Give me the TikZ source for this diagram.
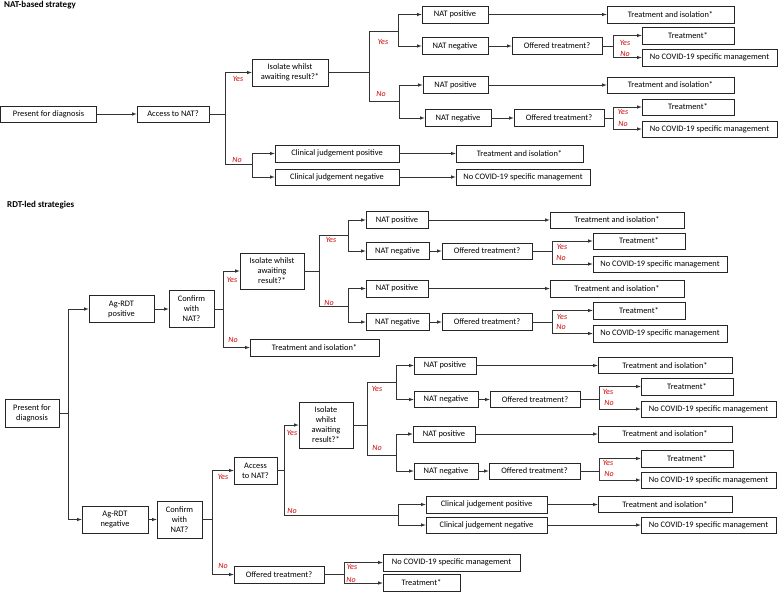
\documentclass[tikz,border=0pt]{standalone}
\usepackage{fontspec}
\setmainfont{Carlito}
\usetikzlibrary{shapes,arrows}
\definecolor{decred}{RGB}{204,0,0}
\newcommand{\decbox}[6]{%
  \node[box, minimum width=#4pt, minimum height=#5pt] (#1) at (#2,#3) {#6};}
\newcommand{\yeslbl}[3]{\node[lbl] (#1) at (#2,#3) {Yes};}
\newcommand{\nolbl}[3]{\node[lbl] (#1) at (#2,#3) {No};}
\tikzset{
  box/.style  = {draw=black!85, fill=white, line width=0.6pt, inner sep=1pt,
                 align=center, font=\fontsize{8.4}{10}\selectfont},
  lbl/.style  = {text=decred, inner sep=0pt, font=\fontsize{8}{9}\selectfont\itshape},
  hd/.style   = {anchor=west, inner sep=0pt, font=\fontsize{9}{10}\selectfont\bfseries},
  edge/.style = {draw=black!80, line width=0.6pt, -latex},
  link/.style = {draw=black!80, line width=0.6pt}
}

\begin{document}
\begin{tikzpicture}[x=1pt, y=-1pt]
  \useasboundingbox (0,0) rectangle (778,592);

  % NAT-based strategy
  \node[hd] (hd1) at (4,5) {NAT-based strategy};
  \decbox{pfd1}{48.5}{114}{96}{16}{Present for diagnosis}
  \decbox{acc1}{173}{114}{72}{16}{Access to NAT?}
  \decbox{iso1}{290}{72.5}{76}{27}{Isolate whilst\\awaiting result?*}
  \decbox{cjp1}{337}{153.5}{124}{17}{Clinical judgement positive}
  \decbox{cjn1}{337}{177}{124}{16}{Clinical judgement negative}
  \decbox{ti1c}{519.5}{153.5}{127}{17}{Treatment and isolation*}
  \decbox{nc1c}{523}{177}{134}{16}{No COVID-19 specific management}
  \decbox{natp1a}{455}{14.5}{66}{17}{NAT positive}
  \decbox{natn1a}{455}{46}{66}{17}{NAT negative}
  \decbox{off1a}{557}{46}{90}{17}{Offered treatment?}
  \decbox{ti1a}{670.5}{14.5}{127}{17}{Treatment and isolation*}
  \decbox{tr1a}{688}{35.5}{92}{17}{Treatment*}
  \decbox{nc1a}{709.5}{57.5}{135}{17}{No COVID-19 specific management}
  \decbox{natp1b}{455.5}{85}{65}{17}{NAT positive}
  \decbox{natn1b}{458}{118}{66}{17}{NAT negative}
  \decbox{off1b}{559}{118}{90}{17}{Offered treatment?}
  \decbox{ti1b}{670.5}{85}{127}{16}{Treatment and isolation*}
  \decbox{tr1b}{688}{107}{92}{16}{Treatment*}
  \decbox{nc1b}{709.5}{129}{135}{16}{No COVID-19 specific management}

  \coordinate (j1) at (225,114);
  \coordinate (j1n) at (252,164);
  \coordinate (j2) at (369,72.5);
  \coordinate (j2a) at (398,31);
  \coordinate (j2b) at (399,101);
  \coordinate (j3a) at (613,46);
  \coordinate (j3b) at (613,118);

  \draw[edge] (pfd1) -- (acc1);
  \draw[link] (acc1) -- (j1) |- (j1n);
  \draw[edge] (j1) |- (iso1);
  \draw[edge] (j1n) |- (cjp1);
  \draw[edge] (j1n) |- (cjn1);
  \draw[edge] (cjp1) -- (ti1c);
  \draw[edge] (cjn1) -- (nc1c);
  \draw[link] (iso1) -- (j2) |- (j2a);
  \draw[link] (j2) |- (j2b);
  \draw[edge] (j2a) |- (natp1a);
  \draw[edge] (j2a) |- (natn1a);
  \draw[edge] (j2b) |- (natp1b);
  \draw[edge] (j2b) |- (natn1b);
  \draw[edge] (natp1a) -- (ti1a);
  \draw[edge] (natn1a) -- (off1a);
  \draw[edge] (natp1b) -- (ti1b);
  \draw[edge] (natn1b) -- (off1b);
  \draw[link] (off1a) -- (j3a);
  \draw[edge] (j3a) |- (tr1a);
  \draw[edge] (j3a) |- (nc1a);
  \draw[link] (off1b) -- (j3b);
  \draw[edge] (j3b) |- (tr1b);
  \draw[edge] (j3b) |- (nc1b);

  \yeslbl{ly1}{238}{79}   \nolbl{ln1}{237}{160}
  \yeslbl{ly2}{383}{42}   \nolbl{ln2}{381}{94}
  \yeslbl{ly3}{625}{43}   \nolbl{ln3}{625}{54}
  \yeslbl{ly4}{623}{112}  \nolbl{ln4}{623}{124}

  % RDT-led strategies
  \node[hd] (hd2) at (7,205) {RDT-led strategies};
  \decbox{pfd2}{32}{413}{54}{28}{Present for\\diagnosis}
  \decbox{agp}{121.5}{309}{65}{27}{Ag-RDT\\positive}
  \decbox{cfp}{191.5}{309}{45}{37}{Confirm\\with\\NAT?}
  \decbox{iso2}{272}{271}{64}{36}{Isolate whilst\\awaiting\\result?*}
  \decbox{ti2x}{314.5}{347.5}{129}{17}{Treatment and isolation*}
  \decbox{natp2a}{397}{220}{62}{17}{NAT positive}
  \decbox{natn2a}{397.5}{251}{63}{17}{NAT negative}
  \decbox{ti2a}{617}{220}{134}{16}{Treatment and isolation*}
  \decbox{off2a}{487}{251}{90}{16}{Offered treatment?}
  \decbox{tr2a}{639}{241}{92}{16}{Treatment*}
  \decbox{nc2a}{660}{264}{134}{16}{No COVID-19 specific management}
  \decbox{natp2b}{397}{288.5}{62}{17}{NAT positive}
  \decbox{natn2b}{397.5}{322}{63}{17}{NAT negative}
  \decbox{ti2b}{617}{288.5}{134}{17}{Treatment and isolation*}
  \decbox{off2b}{487}{322}{90}{17}{Offered treatment?}
  \decbox{tr2b}{639}{310.5}{92}{17}{Treatment*}
  \decbox{nc2b}{660}{333.5}{134}{17}{No COVID-19 specific management}

  \decbox{agn}{115}{519.5}{66}{27}{Ag-RDT\\negative}
  \decbox{cfn}{179.5}{519.5}{45}{37}{Confirm\\with\\NAT?}
  \decbox{acc2}{255.5}{470.5}{43}{27}{Access\\to NAT?}
  \decbox{off2n}{279}{574.5}{90}{17}{Offered treatment?}
  \decbox{nc2n}{451.5}{562.5}{137}{17}{No COVID-19 specific management}
  \decbox{tr2n}{421.5}{583}{77}{17}{Treatment*}
  \decbox{iso3}{326}{425}{54}{46}{Isolate\\whilst\\awaiting\\result?*}
  \decbox{natp3a}{445}{365.5}{62}{17}{NAT positive}
  \decbox{natn3a}{446}{399.5}{64}{16}{NAT negative}
  \decbox{ti3a}{665}{365.5}{134}{16}{Treatment and isolation*}
  \decbox{off3a}{535}{399.5}{90}{16}{Offered treatment?}
  \decbox{tr3a}{687}{386.5}{92}{17}{Treatment*}
  \decbox{nc3a}{708.5}{409}{135}{16}{No COVID-19 specific management}
  \decbox{natp3b}{444}{434}{62}{16}{NAT positive}
  \decbox{natn3b}{446}{471}{64}{16}{NAT negative}
  \decbox{ti3b}{665}{434}{134}{16}{Treatment and isolation*}
  \decbox{off3b}{534.5}{471}{91}{16}{Offered treatment?}
  \decbox{tr3b}{687}{458.5}{92}{17}{Treatment*}
  \decbox{nc3b}{708.5}{480}{135}{16}{No COVID-19 specific management}
  \decbox{cjp2}{486.5}{504.5}{121}{17}{Clinical judgement positive}
  \decbox{cjn2}{486.5}{525}{121}{16}{Clinical judgement negative}
  \decbox{ti3c}{665}{504.5}{134}{16}{Treatment and isolation*}
  \decbox{nc3c}{708.5}{525}{135}{16}{No COVID-19 specific management}

  \coordinate (j4) at (68,413);
  \coordinate (j5) at (223,309);
  \coordinate (j6) at (319,271);
  \coordinate (j6a) at (348,235.5);
  \coordinate (j6b) at (348,306);
  \coordinate (j7a) at (552,251);
  \coordinate (j7b) at (552,322);
  \coordinate (j8) at (212,519.5);
  \coordinate (j9) at (284,470.5);
  \coordinate (j9n) at (398,515);
  \coordinate (j10) at (367,425);
  \coordinate (j10a) at (396,382.5);
  \coordinate (j10b) at (396,455);
  \coordinate (j11a) at (599,399.5);
  \coordinate (j11b) at (599,471);
  \coordinate (j12) at (344,574.5);

  \draw[link] (pfd2) -- (j4);
  \draw[edge] (j4) |- (agp);
  \draw[edge] (j4) |- (agn);
  \draw[edge] (agp) -- (cfp);
  \draw[link] (cfp) -- (j5);
  \draw[edge] (j5) |- (iso2);
  \draw[edge] (j5) |- (ti2x);
  \draw[link] (iso2) -- (j6) |- (j6a);
  \draw[link] (j6) |- (j6b);
  \draw[edge] (j6a) |- (natp2a);
  \draw[edge] (j6a) |- (natn2a);
  \draw[edge] (j6b) |- (natp2b);
  \draw[edge] (j6b) |- (natn2b);
  \draw[edge] (natp2a) -- (ti2a);
  \draw[edge] (natn2a) -- (off2a);
  \draw[edge] (natp2b) -- (ti2b);
  \draw[edge] (natn2b) -- (off2b);
  \draw[link] (off2a) -- (j7a);
  \draw[edge] (j7a) |- (tr2a);
  \draw[edge] (j7a) |- (nc2a);
  \draw[link] (off2b) -- (j7b);
  \draw[edge] (j7b) |- (tr2b);
  \draw[edge] (j7b) |- (nc2b);

  \draw[edge] (agn) -- (cfn);
  \draw[link] (cfn) -- (j8);
  \draw[edge] (j8) |- (acc2);
  \draw[edge] (j8) |- (off2n);
  \draw[link] (off2n) -- (j12);
  \draw[edge] (j12) |- (nc2n);
  \draw[edge] (j12) |- (tr2n);
  \draw[link] (acc2) -- (j9) |- (j9n);
  \draw[edge] (j9) |- (iso3);
  \draw[edge] (j9n) |- (cjp2);
  \draw[edge] (j9n) |- (cjn2);
  \draw[edge] (cjp2) -- (ti3c);
  \draw[edge] (cjn2) -- (nc3c);
  \draw[link] (iso3) -- (j10) |- (j10a);
  \draw[link] (j10) |- (j10b);
  \draw[edge] (j10a) |- (natp3a);
  \draw[edge] (j10a) |- (natn3a);
  \draw[edge] (j10b) |- (natp3b);
  \draw[edge] (j10b) |- (natn3b);
  \draw[edge] (natp3a) -- (ti3a);
  \draw[edge] (natn3a) -- (off3a);
  \draw[edge] (natp3b) -- (ti3b);
  \draw[edge] (natn3b) -- (off3b);
  \draw[link] (off3a) -- (j11a);
  \draw[edge] (j11a) |- (tr3a);
  \draw[edge] (j11a) |- (nc3a);
  \draw[link] (off3b) -- (j11b);
  \draw[edge] (j11b) |- (tr3b);
  \draw[edge] (j11b) |- (nc3b);

  \yeslbl{ly5}{232}{280}   \nolbl{ln5}{233}{340}
  \yeslbl{ly6}{331}{240}   \nolbl{ln6}{329}{303}
  \yeslbl{ly7}{562}{247}   \nolbl{ln7}{561}{258}
  \yeslbl{ly8}{562}{317}   \nolbl{ln8}{561}{327}
  \yeslbl{ly9}{223}{477}   \nolbl{ln9}{223}{566}
  \yeslbl{ly10}{292}{433}  \nolbl{ln10}{292}{511}
  \yeslbl{ly11}{377}{389}  \nolbl{ln11}{377}{448}
  \yeslbl{ly12}{608}{392}  \nolbl{ln12}{609}{403}
  \yeslbl{ly13}{608}{463}  \nolbl{ln13}{609}{474}
  \yeslbl{ly14}{352}{567}  \nolbl{ln14}{351}{580}
\end{tikzpicture}
\end{document}
